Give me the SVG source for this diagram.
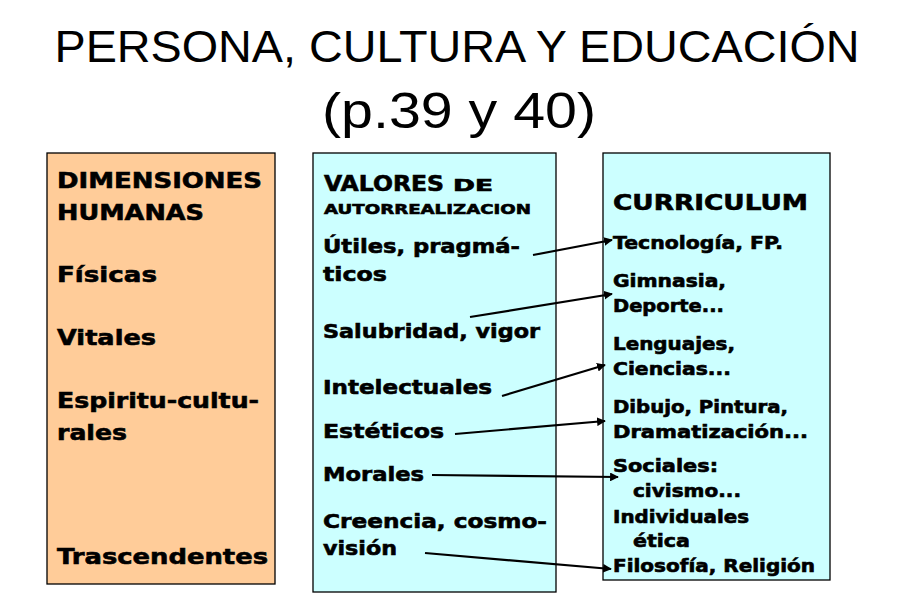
<svg xmlns="http://www.w3.org/2000/svg" width="903" height="615" viewBox="0 0 903 615">
<style>
.t{font-family:"DejaVu Sans","Liberation Sans",sans-serif;font-weight:bold;fill:#000;stroke:#000;stroke-width:0.6}
.b{stroke:#000;stroke-width:1.3}
.c{stroke:#000;stroke-width:2.2;fill:none;marker-end:url(#ah)}
</style>
<defs>
<marker id="ah" viewBox="0 0 10 10" refX="9" refY="5" markerWidth="4" markerHeight="4" orient="auto" markerUnits="strokeWidth">
<path d="M0,0 L10,5 L0,10 z" fill="#000"/>
</marker>
</defs>
<rect width="903" height="615" fill="#fff"/>
<g id="title">
<text x="457" y="62" text-anchor="middle" font-family="Liberation Sans, Arial, sans-serif" font-size="44" textLength="805" lengthAdjust="spacingAndGlyphs">PERSONA, CULTURA Y EDUCACIÓN</text>
<text x="459" y="128" text-anchor="middle" font-family="Liberation Sans, Arial, sans-serif" font-size="50" textLength="274" lengthAdjust="spacingAndGlyphs">(p.39 y 40)</text>
</g>
<g id="dimensiones">
<rect class="b" x="47" y="153" width="228" height="431" fill="#FFCC99"/>
<g class="t" font-size="22">
<text x="57" y="188" textLength="205" lengthAdjust="spacingAndGlyphs">DIMENSIONES</text>
<text x="57" y="220" textLength="147" lengthAdjust="spacingAndGlyphs">HUMANAS</text>
<text x="57" y="282" textLength="100" lengthAdjust="spacingAndGlyphs">Físicas</text>
<text x="57" y="345" textLength="99" lengthAdjust="spacingAndGlyphs">Vitales</text>
<text x="57" y="408" textLength="202" lengthAdjust="spacingAndGlyphs">Espiritu-cultu-</text>
<text x="57" y="440" textLength="70" lengthAdjust="spacingAndGlyphs">rales</text>
<text x="57" y="564" textLength="211" lengthAdjust="spacingAndGlyphs">Trascendentes</text>
</g>
</g>
<g id="valores">
<rect class="b" x="313" y="153" width="243" height="439" fill="#CCFFFF"/>
<g class="t">
<text x="324" y="191" font-size="21" textLength="120" lengthAdjust="spacingAndGlyphs">VALORES</text>
<text x="453" y="191" font-size="15" textLength="40" lengthAdjust="spacingAndGlyphs">DE</text>
<text x="324" y="214" font-size="14" textLength="207" lengthAdjust="spacingAndGlyphs">AUTORREALIZACION</text>
<g font-size="20">
<text x="323" y="253" textLength="197" lengthAdjust="spacingAndGlyphs">Útiles, pragmá-</text>
<text x="323" y="281" textLength="64" lengthAdjust="spacingAndGlyphs">ticos</text>
<text x="323" y="338" textLength="217" lengthAdjust="spacingAndGlyphs">Salubridad, vigor</text>
<text x="323" y="394" textLength="169" lengthAdjust="spacingAndGlyphs">Intelectuales</text>
<text x="323" y="438" textLength="121" lengthAdjust="spacingAndGlyphs">Estéticos</text>
<text x="323" y="481" textLength="101" lengthAdjust="spacingAndGlyphs">Morales</text>
<text x="323" y="528" textLength="224" lengthAdjust="spacingAndGlyphs">Creencia, cosmo-</text>
<text x="323" y="555" textLength="74" lengthAdjust="spacingAndGlyphs">visión</text>
</g>
</g>
</g>
<g id="curriculum">
<rect class="b" x="603" y="153" width="227" height="427" fill="#CCFFFF"/>
<g class="t">
<text x="613" y="210" font-size="22" textLength="195" lengthAdjust="spacingAndGlyphs">CURRICULUM</text>
<g font-size="17">
<text x="613" y="249" textLength="170" lengthAdjust="spacingAndGlyphs">Tecnología, FP.</text>
<text x="613" y="287" textLength="113" lengthAdjust="spacingAndGlyphs">Gimnasia,</text>
<text x="613" y="312" textLength="111" lengthAdjust="spacingAndGlyphs">Deporte...</text>
<text x="613" y="350" textLength="122" lengthAdjust="spacingAndGlyphs">Lenguajes,</text>
<text x="613" y="375" textLength="118" lengthAdjust="spacingAndGlyphs">Ciencias...</text>
<text x="613" y="413" textLength="175" lengthAdjust="spacingAndGlyphs">Dibujo, Pintura,</text>
<text x="613" y="438" textLength="195" lengthAdjust="spacingAndGlyphs">Dramatización...</text>
<text x="613" y="472" textLength="105" lengthAdjust="spacingAndGlyphs">Sociales:</text>
<text x="633" y="497" textLength="108" lengthAdjust="spacingAndGlyphs">civismo...</text>
<text x="613" y="523" textLength="136" lengthAdjust="spacingAndGlyphs">Individuales</text>
<text x="633" y="547" textLength="57" lengthAdjust="spacingAndGlyphs">ética</text>
<text x="613" y="572" textLength="202" lengthAdjust="spacingAndGlyphs">Filosofía, Religión</text>
</g>
</g>
</g>
<g id="connectors">
<line class="c" x1="533" y1="255" x2="612" y2="240"/>
<line class="c" x1="470" y1="317" x2="612" y2="294"/>
<line class="c" x1="502" y1="396" x2="605" y2="365"/>
<line class="c" x1="455" y1="434" x2="605" y2="421"/>
<line class="c" x1="432" y1="475" x2="618" y2="477"/>
<line class="c" x1="425" y1="553" x2="611" y2="569"/>
</g>
</svg>
